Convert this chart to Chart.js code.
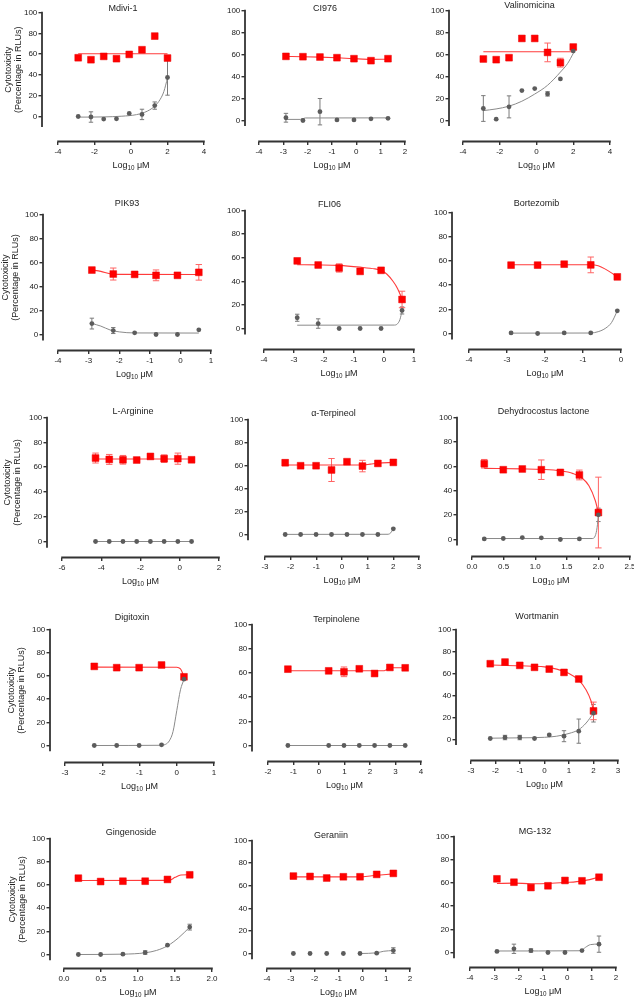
<!DOCTYPE html>
<html>
<head>
<meta charset="utf-8">
<script src="https://cdn.jsdelivr.net/npm/chart.js@4.4.1/dist/chart.umd.min.js"></script>
<style>
html,body{margin:0;padding:0;background:#fff;}
body{width:634px;height:998px;position:relative;overflow:hidden;}
.pn{position:absolute;}
</style>
</head>
<body>
<script>
// ---------- DATA ----------
const yTicks = [0, 20, 40, 60, 80, 100];

// 1 Mdivi-1
const mdiviX = [-2.893, -2.194, -1.495, -0.796, -0.097, 0.602, 1.301, 2.0];
const mdiviRed = [56.5, 54.6, 57.8, 55.6, 59.7, 64.2, 77.3, 56.2];
const mdiviRedErr = [0, 0, 0, 0, 0, 0, 0, 0];
const mdiviGray = [0, -0.5, -2.5, -2.2, 3, 2, 10.5, 37.5];
const mdiviGrayErr = [0, 5, 0, 0, 0, 5, 3.5, 17];
const mdiviRedFitX = [-2.893, 2.0];
const mdiviRedFitY = [60.3, 60.3];
const mdiviGrayFitX = [-2.893, -1.5, -0.5, 0.3, 0.9, 1.3, 1.6, 1.8, 2.0];
const mdiviGrayFitY = [-0.6, -0.4, 0.3, 1.8, 5.2, 10, 16.5, 24, 37];
const mdiviXTicks = [-4, -2, 0, 2, 4];

// 2 CI976
const ci976X = [-2.893, -2.194, -1.495, -0.796, -0.097, 0.602, 1.301];
const ci976Red = [58.3, 58, 57.7, 57.1, 56.2, 54.4, 56.2];
const ci976RedErr = [0, 0, 0, 0, 0, 1.5, 0];
const ci976Gray = [2.5, 0, 8, 0.5, 0.5, 1.5, 2];
const ci976GrayErr = [4, 0, 12, 0, 0, 0, 0];
const ci976RedFitX = [-2.893, -2.194, -1.495, -0.796, -0.097, 0.602, 1.301];
const ci976RedFitY = [58.2, 58, 57.6, 57, 56.2, 55.6, 55.7];
const ci976GrayFitX = [-2.893, -2.3, -2.1, 1.301];
const ci976GrayFitY = [1, 1, 2.3, 2.4];
const ci976XTicks = [-4, -3, -2, -1, 0, 1, 2];

// 3 Valinomicina
const valinoX = [-2.893, -2.194, -1.495, -0.796, -0.097, 0.602, 1.301, 2.0];
const valinoRed = [55.9, 55.3, 57.1, 74.6, 74.6, 61.9, 52.6, 66.8];
const valinoRedErr = [0, 0, 2, 0, 0, 8.5, 4, 2];
const valinoGray = [10.9, 1.2, 12.4, 27.2, 29, 24.2, 37.8, 63.1];
const valinoGrayErr = [11.7, 0, 10, 0, 0, 2, 0, 0];
const valinoRedFitX = [-2.893, 2.0];
const valinoRedFitY = [62.5, 62.5];
const valinoGrayFitX = [-2.893, -2.2, -1.5, -0.8, -0.1, 0.6, 1.3, 1.7, 2.0];
const valinoGrayFitY = [9, 10.5, 13, 17.5, 24, 32, 44, 52, 61];
const valinoXTicks = [-4, -2, 0, 2, 4];

// 4 PIK93
const pik93X = [-2.893, -2.194, -1.495, -0.796, -0.097, 0.602];
const pik93Red = [53.7, 50.4, 50.1, 49.3, 49.3, 51.8];
const pik93RedErr = [0, 5, 1.5, 4.5, 0, 6.5];
const pik93Gray = [9.1, 3.3, 1.4, 0, 0, 3.9];
const pik93GrayErr = [4.5, 2.5, 0, 0, 0, 0];
const pik93RedFitX = [-2.893, -2.6, -2.3, -2.0, 0.602];
const pik93RedFitY = [53.8, 52.6, 50.6, 50.1, 50];
const pik93GrayFitX = [-2.893, -2.6, -2.3, -2.0, -1.5, 0.602];
const pik93GrayFitY = [9.2, 7, 3.8, 2.2, 1.3, 1.2];
const pik93XTicks = [-4, -3, -2, -1, 0, 1];

// 5 FLI06
const fli06X = [-2.893, -2.194, -1.495, -0.796, -0.097, 0.602];
const fli06Red = [57.3, 53.8, 51.3, 48.4, 49.3, 24.6];
const fli06RedErr = [0, 0, 3.5, 0, 0, 7];
const fli06Gray = [9.1, 4.2, 0, 0, 0, 15.3];
const fli06GrayErr = [3, 4, 0, 0, 0, 3];
const fli06RedFitX = [-2.893, -2.2, -1.5, -0.8, -0.3, -0.1, 0.1, 0.3, 0.45, 0.602];
const fli06RedFitY = [54, 53.9, 53.5, 52, 50.5, 49.3, 46, 40, 34, 25];
const fli06GrayFitX = [-2.893, 0.35, 0.45, 0.53, 0.602];
const fli06GrayFitY = [2.8, 2.9, 4, 7.5, 15];
const fli06XTicks = [-4, -3, -2, -1, 0, 1];

// 6 Bortezomib
const bortX = [-2.893, -2.194, -1.495, -0.796, -0.097];
const bortRed = [56.5, 56.5, 57.3, 56.7, 46.8];
const bortRedErr = [0, 1.5, 0, 6.5, 0];
const bortGray = [0.5, 0, 0.5, 0.5, 18.7];
const bortGrayErr = [0, 0, 0, 0, 0];
const bortRedFitX = [-2.893, -0.8, -0.6, -0.4, -0.2, -0.097];
const bortRedFitY = [56.8, 56.8, 56, 53, 49, 46.8];
const bortGrayFitX = [-2.893, -0.8, -0.6, -0.4, -0.25, -0.097];
const bortGrayFitY = [0.3, 0.4, 1.5, 4.5, 9, 18.7];
const bortXTicks = [-4, -3, -2, -1, 0];

// 7 L-Arginine
const argX = [-4.291, -3.592, -2.893, -2.194, -1.495, -0.796, -0.097, 0.602];
const argRed = [67.3, 66.2, 65.9, 65.7, 68.6, 66.8, 66.8, 65.9];
const argRedErr = [4, 4, 3.5, 0, 0, 3, 4.5, 0];
const argGray = [0, 0, 0, 0, 0, 0, 0, 0];
const argGrayErr = [0, 0, 0, 0, 0, 0, 0, 0];
const argRedFitX = [-4.291, 0.602];
const argRedFitY = [66.5, 66.5];
const argGrayFitX = [-4.291, 0.602];
const argGrayFitY = [0, 0];
const argXTicks = [-6, -4, -2, 0, 2];

// 8 alpha-Terpineol
const terpX = [-2.214, -1.612, -1.01, -0.408, 0.194, 0.796, 1.398, 2.0];
const terpRed = [62.4, 59.8, 59.8, 56.1, 63.3, 59.5, 61.8, 62.7];
const terpRedErr = [2.5, 0, 0, 10, 0, 5, 0, 0];
const terpGray = [0, 0, 0, 0, 0, 0, 0, 4.9];
const terpGrayErr = [0, 0, 0, 0, 0, 0, 0, 0];
const terpRedFitX = [-2.214, 0.8, 1.1, 1.4, 2.0];
const terpRedFitY = [60.5, 60.5, 61.2, 62, 62.7];
const terpGrayFitX = [-2.214, 1.8, 1.9, 2.0];
const terpGrayFitY = [0.1, 0.2, 1.5, 4.9];
const terpXTicks = [-3, -2, -1, 0, 1, 2, 3];

// 9 Dehydrocostus lactone
const dehyX = [0.194, 0.495, 0.796, 1.097, 1.398, 1.699, 2.0];
const dehyRed = [62.1, 57.2, 57.8, 57.2, 55, 52.9, 22.1];
const dehyRedErr = [3.5, 0, 0, 8, 0, 4, 29];
const dehyGray = [0.5, 0.8, 1.6, 1.4, 0, 0.5, 20.2];
const dehyGrayErr = [0, 0, 0, 0, 0, 0, 5.5];
const dehyRedFitX = [0.194, 0.8, 1.1, 1.4, 1.6, 1.75, 1.85, 1.95, 2.0];
const dehyRedFitY = [58.3, 57.9, 57.5, 56.3, 54, 50, 44, 32, 22];
const dehyGrayFitX = [0.194, 1.9, 1.95, 1.98, 2.0];
const dehyGrayFitY = [0.8, 0.8, 3, 10, 20];
const dehyXTicks = [0, 0.5, 1, 1.5, 2, 2.5];

// 10 Digitoxin
const digX = [-2.214, -1.612, -1.01, -0.408, 0.194];
const digRed = [68.2, 67.1, 67.1, 69.4, 59.2];
const digRedErr = [0, 0, 0, 0, 0];
const digGray = [0, 0, 0, 0.6, 57.2];
const digGrayErr = [0, 0, 0, 0, 0];
const digRedFitX = [-2.214, 0, 0.1, 0.15, 0.194];
const digRedFitY = [67.6, 67.5, 66, 63, 59];
const digGrayFitX = [-2.214, -0.4, -0.3, -0.2, -0.1, 0, 0.1, 0.194];
const digGrayFitY = [0, 0.2, 1, 4, 12, 30, 48, 57];
const digXTicks = [-3, -2, -1, 0, 1];

// 11 Terpinolene
const tplX = [-1.22, 0.38, 0.98, 1.58, 2.18, 2.78, 3.38];
const tplRed = [63.1, 61.7, 60.9, 63.4, 59.5, 64.5, 64.2];
const tplRedErr = [0, 0, 4, 0, 0, 0, 0];
const tplGray = [0, 0, 0, 0, 0, 0, 0];
const tplGrayErr = [0, 0, 0, 0, 0, 0, 0];
const tplRedFitX = [-1.22, 2.55, 2.7, 2.8, 3.38];
const tplRedFitY = [61.8, 61.8, 63.5, 64.3, 64.3];
const tplGrayFitX = [-1.22, 3.38];
const tplGrayFitY = [0, 0];
const tplXTicks = [-2, -1, 0, 1, 2, 3, 4];

// 12 Wortmanin
const wortX = [-2.214, -1.612, -1.01, -0.408, 0.194, 0.796, 1.398, 2.0];
const wortRed = [68.9, 70.4, 67.4, 65.6, 64, 61, 55, 26];
const wortRedErr = [0, 0, 0, 0, 0, 0, 2, 8];
const wortGray = [0.9, 1.8, 1.8, 0.9, 4.2, 3, 7.6, 23.9];
const wortGrayErr = [0, 2, 2, 0, 0, 5, 11, 8];
const wortRedFitX = [-2.214, -1, 0, 0.5, 1, 1.4, 1.7, 1.9, 2.0];
const wortRedFitY = [67.7, 67, 66, 64, 60, 54, 45, 35, 26];
const wortGrayFitX = [-2.214, -1, 0, 0.5, 1, 1.4, 1.7, 2.0];
const wortGrayFitY = [1.2, 1.5, 2, 3, 5.5, 9, 15, 24];
const wortXTicks = [-3, -2, -1, 0, 1, 2, 3];

// 13 Gingenoside
const ginX = [0.194, 0.495, 0.796, 1.097, 1.398, 1.699];
const ginRed = [65.8, 62.9, 63.2, 63.2, 64.7, 68.7];
const ginRedErr = [0, 0, 0, 0, 0, 0];
const ginGray = [0, 0, 0.3, 1.7, 8, 23.6];
const ginGrayErr = [0, 0, 0, 1.5, 0, 2.5];
const ginRedFitX = [0.194, 1.42, 1.5, 1.58, 1.699];
const ginRedFitY = [63.8, 63.9, 66.5, 68.5, 68.8];
const ginGrayFitX = [0.194, 0.8, 1.1, 1.25, 1.4, 1.55, 1.699];
const ginGrayFitY = [0, 0.3, 1.5, 3.5, 7.5, 14.5, 23.6];
const ginXTicks = [0, 0.5, 1, 1.5, 2];

// 14 Geraniin
const gerX = [-2.893, -2.194, -1.495, -0.796, -0.097, 0.602, 1.301];
const gerRed = [68.5, 68.2, 66.8, 67.9, 67.9, 70, 70.9];
const gerRedErr = [0, 0, 0, 0, 0, 0, 0];
const gerGray = [0, 0, 0, 0, 0, 0.3, 2.6];
const gerGrayErr = [0, 0, 0, 0, 0, 0, 2.5];
const gerRedFitX = [-2.893, -0.1, 0.4, 1.301];
const gerRedFitY = [67.8, 67.8, 68.8, 70.5];
const gerGrayFitX = [-0.097, 0.6, 0.9, 1.301];
const gerGrayFitY = [0, 0.6, 2, 2.6];
const gerXTicks = [-4, -3, -2, -1, 0, 1, 2];

// 15 MG-132
const mgX = [-2.893, -2.194, -1.495, -0.796, -0.097, 0.602, 1.301];
const mgRed = [63.5, 60.6, 56, 57.5, 62.1, 61.8, 64.9];
const mgRedErr = [0, 1.5, 0, 0, 0, 0, 0];
const mgGray = [0.9, 3.2, 1.7, 0, 0, 1.7, 7.2];
const mgGrayErr = [0, 4, 1.5, 0, 0, 0, 7];
const mgRedFitX = [-2.893, -2.194, -1.495, -0.796, -0.097, 0.602, 1.301];
const mgRedFitY = [59.5, 59.8, 59.3, 59.5, 60.3, 61.5, 64.9];
const mgGrayFitX = [-2.893, 0.55, 0.75, 0.95, 1.301];
const mgGrayFitY = [1.3, 1.5, 4.5, 6.8, 7.3];
const mgXTicks = [-4, -3, -2, -1, 0, 1, 2];

const titles = ['Mdivi-1', 'CI976', 'Valinomicina', 'PIK93', 'FLI06', 'Bortezomib',
  'L-Arginine', '\u03B1-Terpineol', 'Dehydrocostus lactone', 'Digitoxin', 'Terpinolene', 'Wortmanin',
  'Gingenoside', 'Geraniin', 'MG-132'];

const series = [
  [mdiviX, mdiviRed, mdiviRedErr, mdiviGray, mdiviGrayErr, mdiviRedFitX, mdiviRedFitY, mdiviGrayFitX, mdiviGrayFitY, mdiviXTicks],
  [ci976X, ci976Red, ci976RedErr, ci976Gray, ci976GrayErr, ci976RedFitX, ci976RedFitY, ci976GrayFitX, ci976GrayFitY, ci976XTicks],
  [valinoX, valinoRed, valinoRedErr, valinoGray, valinoGrayErr, valinoRedFitX, valinoRedFitY, valinoGrayFitX, valinoGrayFitY, valinoXTicks],
  [pik93X, pik93Red, pik93RedErr, pik93Gray, pik93GrayErr, pik93RedFitX, pik93RedFitY, pik93GrayFitX, pik93GrayFitY, pik93XTicks],
  [fli06X, fli06Red, fli06RedErr, fli06Gray, fli06GrayErr, fli06RedFitX, fli06RedFitY, fli06GrayFitX, fli06GrayFitY, fli06XTicks],
  [bortX, bortRed, bortRedErr, bortGray, bortGrayErr, bortRedFitX, bortRedFitY, bortGrayFitX, bortGrayFitY, bortXTicks],
  [argX, argRed, argRedErr, argGray, argGrayErr, argRedFitX, argRedFitY, argGrayFitX, argGrayFitY, argXTicks],
  [terpX, terpRed, terpRedErr, terpGray, terpGrayErr, terpRedFitX, terpRedFitY, terpGrayFitX, terpGrayFitY, terpXTicks],
  [dehyX, dehyRed, dehyRedErr, dehyGray, dehyGrayErr, dehyRedFitX, dehyRedFitY, dehyGrayFitX, dehyGrayFitY, dehyXTicks],
  [digX, digRed, digRedErr, digGray, digGrayErr, digRedFitX, digRedFitY, digGrayFitX, digGrayFitY, digXTicks],
  [tplX, tplRed, tplRedErr, tplGray, tplGrayErr, tplRedFitX, tplRedFitY, tplGrayFitX, tplGrayFitY, tplXTicks],
  [wortX, wortRed, wortRedErr, wortGray, wortGrayErr, wortRedFitX, wortRedFitY, wortGrayFitX, wortGrayFitY, wortXTicks],
  [ginX, ginRed, ginRedErr, ginGray, ginGrayErr, ginRedFitX, ginRedFitY, ginGrayFitX, ginGrayFitY, ginXTicks],
  [gerX, gerRed, gerRedErr, gerGray, gerGrayErr, gerRedFitX, gerRedFitY, gerGrayFitX, gerGrayFitY, gerXTicks],
  [mgX, mgRed, mgRedErr, mgGray, mgGrayErr, mgRedFitX, mgRedFitY, mgGrayFitX, mgGrayFitY, mgXTicks]
];

// ---------- LAYOUT (page pixel geometry of each panel) ----------
// yx: y-axis line x, x0/x1: x-axis line start/end, t: y=100 px, z: y=0 px, b: x-axis line y, tc: title centre y
const frames = [
  {yx: 42, x0: 58, x1: 204, t: 12, z: 116, b: 141, tc: 8, yEnd: -10, yt: 9},
  {yx: 245, x0: 259, x1: 405, t: 10, z: 120, b: 141, tc: 8, yEnd: -5},
  {yx: 449, x0: 463, x1: 610, t: 10, z: 120, b: 141, tc: 5, yEnd: -5},
  {yx: 43, x0: 58, x1: 211, t: 214, z: 334, b: 350, tc: 203, yEnd: -5, yt: 6},
  {yx: 245, x0: 264, x1: 414, t: 210, z: 328, b: 349, tc: 204, yEnd: -5},
  {yx: 452, x0: 469, x1: 621, t: 212, z: 333, b: 349, tc: 203, yEnd: -5},
  {yx: 47, x0: 62, x1: 219, t: 417, z: 541, b: 557, tc: 411, yEnd: -5, yt: 7.5},
  {yx: 248, x0: 265, x1: 419, t: 419, z: 534, b: 556, tc: 413, yEnd: -5},
  {yx: 457, x0: 472, x1: 630, t: 417, z: 539, b: 556, tc: 411, yEnd: -5},
  {yx: 50, x0: 65, x1: 214, t: 629, z: 745, b: 762, tc: 617, yEnd: -5, yt: 12},
  {yx: 252, x0: 268, x1: 421, t: 624, z: 745, b: 761, tc: 619, yEnd: -5},
  {yx: 456, x0: 471, x1: 618, t: 629, z: 739, b: 760, tc: 616, yEnd: -5},
  {yx: 50, x0: 64, x1: 212, t: 838, z: 954, b: 968, tc: 832, yEnd: -5, yt: 12.5},
  {yx: 252, x0: 267, x1: 410, t: 840, z: 953, b: 968, tc: 835, yEnd: -5},
  {yx: 454, x0: 470, x1: 616, t: 836, z: 952, b: 967, tc: 831, yEnd: -5}
];

// ---------- STYLE ----------
const FONT = "'Liberation Sans', Arial, Helvetica, sans-serif";
const AXIS = '#333333';
const RED = '#ff0000', RED_LINE = '#ff3b3b', RED_ERR = '#ff6464';
const GRAY = '#5c5c5c', GRAY_LINE = '#8a8a8a', GRAY_ERR = '#7a7a7a';

Chart.defaults.font.family = FONT;
Chart.defaults.color = '#222';
Chart.defaults.animation = false;

const pts = (xs, ys) => xs.map((x, i) => ({x: x, y: ys[i]}));

const prismPlugin = {
  id: 'prism',
  beforeDatasetsDraw(chart) {
    const ctx = chart.ctx, xs = chart.scales.x, ys = chart.scales.y;
    chart.data.datasets.forEach(ds => {
      if (!ds.errors) return;
      ctx.save();
      ctx.strokeStyle = ds.errColor;
      ctx.lineWidth = 1;
      ds.data.forEach((p, i) => {
        const e = ds.errors[i];
        if (!e) return;
        const px = xs.getPixelForValue(p.x);
        const top = ys.getPixelForValue(p.y + e), bot = ys.getPixelForValue(p.y - e);
        ctx.beginPath();
        ctx.moveTo(px, top); ctx.lineTo(px, bot);
        ctx.moveTo(px - ds.capW, top); ctx.lineTo(px + ds.capW, top);
        ctx.moveTo(px - ds.capW, bot); ctx.lineTo(px + ds.capW, bot);
        ctx.stroke();
      });
      ctx.restore();
    });
  },
  afterDraw(chart, args, opts) {
    const ctx = chart.ctx, ca = chart.chartArea, xs = chart.scales.x, ys = chart.scales.y;
    const xt = opts.xTicks;
    const xa = xs.getPixelForValue(xt[0]), xb = xs.getPixelForValue(xt[xt.length - 1]);
    ctx.save();
    ctx.strokeStyle = AXIS;
    ctx.lineWidth = 1.8;
    ctx.beginPath();
    ctx.moveTo(ca.left, ys.getPixelForValue(100) - 0.8);
    ctx.lineTo(ca.left, ys.getPixelForValue(opts.yEnd));
    ctx.stroke();
    ctx.beginPath();
    ctx.moveTo(xa - 0.8, ca.bottom);
    ctx.lineTo(xb + 0.8, ca.bottom);
    ctx.stroke();
    // x-axis title: Log10 uM with subscript
    ctx.fillStyle = '#222';
    ctx.textBaseline = 'alphabetic';
    ctx.textAlign = 'left';
    const f1 = '9px ' + FONT, f2 = '6.3px ' + FONT;
    ctx.font = f1; const w1 = ctx.measureText('Log').width; const w3 = ctx.measureText(' \u03BCM').width;
    ctx.font = f2; const w2 = ctx.measureText('10').width;
    let sx = (xa + xb) / 2 - (w1 + w2 + w3) / 2;
    const by = ca.bottom + 26;
    ctx.font = f1; ctx.fillText('Log', sx, by); sx += w1;
    ctx.font = f2; ctx.fillText('10', sx, by + 2.3); sx += w2;
    ctx.font = f1; ctx.fillText(' \u03BCM', sx, by);
    // y-axis title (left column only)
    if (opts.yt !== undefined) {
      const cy = (ys.getPixelForValue(100) + ys.getPixelForValue(opts.yEnd)) / 2;
      ctx.translate(opts.yt, cy);
      ctx.rotate(-Math.PI / 2);
      ctx.textAlign = 'center';
      ctx.textBaseline = 'middle';
      ctx.font = '9px ' + FONT;
      ctx.fillText('Cytotoxicity', 0, 0);
      ctx.fillText('(Percentage in RLUs)', 0, 10);
    }
    ctx.restore();
  }
};

series.forEach((s, i) => {
  const [xv, red, redErr, gray, grayErr, rfx, rfy, gfx, gfy, xTicks] = s;
  const f = frames[i];
  const padTop = 2, padR = 12, padB = 2, xH = 30;
  const cLeft = (f.yt !== undefined) ? 0 : f.yx - 34;
  const yW = f.yx - cLeft;
  const cTop = f.tc - 4.5 - padTop;
  const W = f.x1 - cLeft + padR;
  const H = f.b - cTop + xH + padB;
  const tpb = f.t - f.tc - 4.5;

  const xs0 = xTicks[0], xe = xTicks[xTicks.length - 1];
  const xMin = xs0 - (f.x0 - f.yx) / (f.x1 - f.x0) * (xe - xs0);
  const yMin = -(f.b - f.z) / (f.z - f.t) * 100;
  const dec = xTicks.some(v => !Number.isInteger(v)) ? 1 : 0;

  const wrap = document.createElement('div');
  wrap.className = 'pn';
  wrap.style.left = cLeft + 'px';
  wrap.style.top = cTop + 'px';
  wrap.style.width = W + 'px';
  wrap.style.height = H + 'px';
  const cv = document.createElement('canvas');
  wrap.appendChild(cv);
  document.body.appendChild(wrap);

  new Chart(cv, {
    type: 'scatter',
    data: {
      datasets: [
        {label: 'gray pts', data: pts(xv, gray), errors: grayErr, errColor: GRAY_ERR, capW: 2.2,
          pointStyle: 'circle', pointRadius: 2.4, backgroundColor: GRAY, borderWidth: 0, showLine: false},
        {label: 'red pts', data: pts(xv, red), errors: redErr, errColor: RED_ERR, capW: 3.2,
          pointStyle: 'rect', pointRadius: 4.8, backgroundColor: RED, borderColor: '#e80000', borderWidth: 0.5, showLine: false},
        {label: 'gray fit', data: pts(gfx, gfy), showLine: true, pointRadius: 0, borderColor: GRAY_LINE,
          borderWidth: 1, cubicInterpolationMode: 'monotone', fill: false},
        {label: 'red fit', data: pts(rfx, rfy), showLine: true, pointRadius: 0, borderColor: RED_LINE,
          borderWidth: 1.1, cubicInterpolationMode: 'monotone', fill: false}
      ]
    },
    options: {
      responsive: true,
      maintainAspectRatio: false,
      animation: false,
      events: [],
      clip: false,
      layout: {padding: {top: padTop, right: padR, bottom: padB, left: 0}},
      plugins: {
        legend: {display: false},
        tooltip: {enabled: false},
        title: {display: true, text: titles[i], fullSize: false, color: '#222',
          font: {size: 9, lineHeight: 1, weight: 'normal', family: FONT},
          padding: {top: 0, bottom: tpb}},
        prism: {xTicks: xTicks, yEnd: f.yEnd, yt: f.yt}
      },
      scales: {
        x: {
          type: 'linear', min: xMin, max: xe,
          afterBuildTicks: sc => { sc.ticks = xTicks.map(v => ({value: v})); },
          afterFit: sc => { sc.height = xH; },
          grid: {drawOnChartArea: false, drawTicks: true, tickLength: 3.5, color: AXIS, lineWidth: 1.4},
          border: {display: false},
          ticks: {padding: 1.5, font: {size: 8}, color: '#222', maxRotation: 0, autoSkip: false,
            callback: v => Number(v).toFixed(dec)}
        },
        y: {
          min: yMin, max: 100,
          afterBuildTicks: sc => { sc.ticks = yTicks.map(v => ({value: v})); },
          afterFit: sc => { sc.width = yW; },
          grid: {drawOnChartArea: false, drawTicks: true, tickLength: 3.5, color: AXIS, lineWidth: 1.4},
          border: {display: false},
          ticks: {padding: 1.2, font: {size: 8}, color: '#222', autoSkip: false,
            callback: v => String(v)}
        }
      }
    },
    plugins: [prismPlugin]
  });
});
</script>
</body>
</html>
